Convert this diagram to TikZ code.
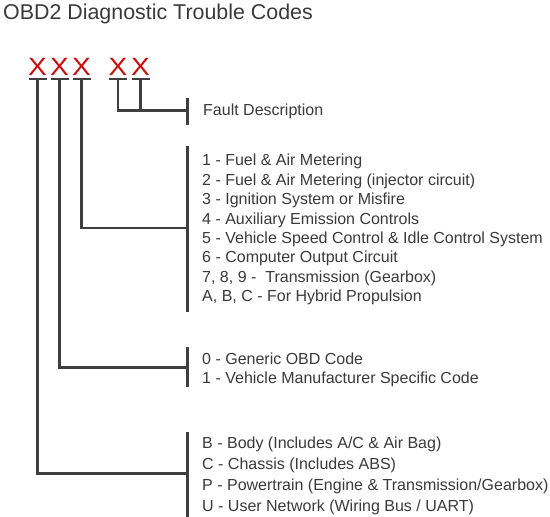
\documentclass[tikz,border=0pt]{standalone}
\usepackage{fontspec}
\setmainfont{Liberation Sans}
\usetikzlibrary{positioning}
\definecolor{wiregray}{HTML}{3F3F3F}
\definecolor{textgray}{HTML}{3A3A3A}
\definecolor{codered}{HTML}{CC0A0A}

\begin{document}
\begin{tikzpicture}[
        x=1pt, y=-1pt,
        title/.style = {anchor=base west, inner sep=0pt, text=textgray, font=\fontsize{21.4}{25}\selectfont},
        digit/.style = {anchor=base, inner sep=0pt, xscale=1.12, text=codered, font=\fontsize{25}{28}\selectfont},
        list/.style  = {anchor=base west, inner sep=0pt, align=left, text=textgray},
        wire/.style  = {draw=wiregray, line width=2.2pt},
    ]
        \useasboundingbox (0,0) rectangle (550,517);
        % Title
        \node[title] (title) at (3,19) {OBD2 Diagnostic Trouble Codes};
        % Code characters
        \foreach \x [count=\i] in {37.5,59.5,81.5,118,140.5}
            \node[digit] (d\i) at (\x,75) {X};
        \foreach \i in {1,...,5}
            \draw[wire] ([xshift=-9pt,yshift=-4pt]d\i.base) -- ([xshift=9pt,yshift=-4pt]d\i.base);
        % Descriptions (placed at the baseline of the last line)
        \node[list, font=\fontsize{16}{19.4}\selectfont] (fault) at (203,115) {Fault Description};
        \node[list, font=\fontsize{16}{19.36}\selectfont] (subsys) at (202,301.5) {1 - Fuel \& Air Metering\\
            2 - Fuel \& Air Metering (injector circuit)\\
            3 - Ignition System or Misfire\\
            4 - Auxiliary Emission Controls\\
            5 - Vehicle Speed Control \& Idle Control System\\
            6 - Computer Output Circuit\\
            7, 8, 9 -~ Transmission (Gearbox)\\
            A, B, C - For Hybrid Propulsion};
        \node[list, font=\fontsize{16}{19.5}\selectfont] (codetype) at (202,383.5) {0 - Generic OBD Code\\
            1 - Vehicle Manufacturer Specific Code};
        \node[list, font=\fontsize{16}{21}\selectfont] (category) at (202,511) {B - Body (Includes A/C \& Air Bag)\\
            C - Chassis (Includes ABS)\\
            P - Powertrain (Engine \& Transmission/Gearbox)\\
            U - User Network (Wiring Bus / UART)};
        % Brackets
        \coordinate (bfault) at (187.5,110.5);
        \coordinate (bsub) at (187.5,228);
        \coordinate (btype) at (187.5,367.5);
        \coordinate (bcat) at (187.5,473.5);
        \draw[wire] ([yshift=12.5pt]bfault) -- ([yshift=-14.5pt]bfault);
        \draw[wire] ([yshift=82pt]bsub) -- ([yshift=-84pt]bsub);
        \draw[wire] ([yshift=20.5pt]btype) -- ([yshift=-19.5pt]btype);
        \draw[wire] ([yshift=41.5pt]bcat) -- ([yshift=-43.5pt]bcat);
        % Connectors
        \draw[wire] ([yshift=-4pt]d1.base) |- (bcat);
        \draw[wire] ([yshift=-4pt]d2.base) |- (btype);
        \draw[wire] ([yshift=-4pt]d3.base) |- (bsub);
        \draw[wire] ([yshift=-4pt]d4.base) |- (bfault);
        \draw[wire] ([yshift=-4pt]d5.base) -- (d5 |- bfault);
    \end{tikzpicture}
\end{document}
